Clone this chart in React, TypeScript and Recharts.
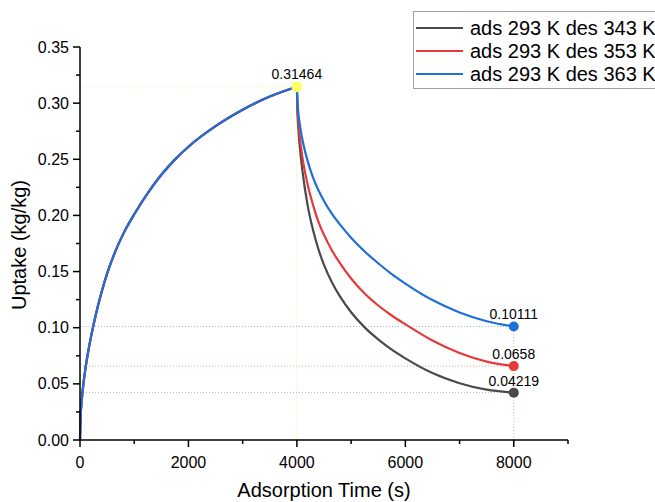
import { LineChart, Line, XAxis, YAxis, ReferenceLine, ReferenceDot } from "recharts";

// adsorption branch (shared by all three runs, 293 K)
const adsTime = [0, 10, 25, 50, 100, 150, 200, 300, 400, 500, 650, 800, 1000, 1250, 1500, 1750, 2000, 2500, 3000, 3500, 4000];
const adsUptake = [0, 0.0196, 0.031, 0.0445, 0.0635, 0.0784, 0.0912, 0.1134, 0.132, 0.1482, 0.1678, 0.1838, 0.2011, 0.2199, 0.2362, 0.2497, 0.2612, 0.2795, 0.2941, 0.3059, 0.31464];

// desorption branch
const desTime = [4000, 4010, 4025, 4050, 4100, 4200, 4300, 4400, 4500, 4650, 4800, 5000, 5250, 5500, 5750, 6000, 6500, 7000, 7500, 8000];
const des343 = [0.31464, 0.2928, 0.2791, 0.263, 0.2406, 0.2085, 0.1865, 0.1696, 0.1559, 0.14, 0.1274, 0.1138, 0.1003, 0.0896, 0.0804, 0.0727, 0.0596, 0.0506, 0.0448, 0.04219];
const des353 = [0.31464, 0.2963, 0.2846, 0.2715, 0.2526, 0.227, 0.209, 0.194, 0.1827, 0.1685, 0.1571, 0.1438, 0.1304, 0.1198, 0.1109, 0.1031, 0.0886, 0.0774, 0.0698, 0.0658];
const des363 = [0.31464, 0.3007, 0.2921, 0.2821, 0.2681, 0.2481, 0.2335, 0.2222, 0.2129, 0.2011, 0.1916, 0.1802, 0.1679, 0.1574, 0.1477, 0.1393, 0.1246, 0.1136, 0.1058, 0.10111];

const seriesNames = ["ads 293 K des 343 K", "ads 293 K des 353 K", "ads 293 K des 363 K"];
const seriesColors = ["#4a4a4a", "#e8383b", "#1f6fd8"];
const guideColors = ["#c4a8b8", "#eea4aa", "#a4c4d4"];

const peakTime = 4000;
const peakUptake = 0.31464;
const endTime = 8000;
const endUptake = [0.04219, 0.0658, 0.10111];
const endLabels = ["0.04219", "0.0658", "0.10111"];

const xTicks = [0, 1000, 2000, 3000, 4000, 5000, 6000, 7000, 8000, 9000];
const yTicks = [0, 0.025, 0.05, 0.075, 0.1, 0.125, 0.15, 0.175, 0.2, 0.225, 0.25, 0.275, 0.3, 0.325, 0.35];

const FONT = "'Liberation Sans', Arial, sans-serif";

const toPoints = (xs: number[], ys: number[]) => xs.map((x, i) => ({ x, y: ys[i] }));
const adsData = toPoints(adsTime, adsUptake);
const desData = [des343, des353, des363].map((d) => toPoints(desTime, d));

function XTick({ x, y, payload }: any) {
  const major = payload.value % 2000 === 0;
  return (
    <g>
      <line x1={x} x2={x} y1={y} y2={y + (major ? 7 : 4)} stroke="#000" strokeWidth={1.5} />
      {major && (
        <text x={x} y={y + 28} textAnchor="middle" fontSize={16} fill="#000">
          {payload.value}
        </text>
      )}
    </g>
  );
}

function YTick({ x, y, payload }: any) {
  const v = payload.value;
  const major = Math.abs(Math.round(v / 0.05) * 0.05 - v) < 1e-6;
  return (
    <g>
      <line x1={x} x2={x - (major ? 7 : 4)} y1={y} y2={y} stroke="#000" strokeWidth={1.5} />
      {major && (
        <text x={x - 11} y={y} dy="0.35em" textAnchor="end" fontSize={16} fill="#000">
          {v.toFixed(2)}
        </text>
      )}
    </g>
  );
}

function Legend() {
  return (
    <div
      style={{
        position: "absolute",
        left: 413,
        top: 11,
        width: 280,
        height: 78,
        border: "1px solid #a0a0a0",
        background: "#fff",
        fontFamily: FONT,
        fontSize: 20,
        boxSizing: "border-box",
      }}
    >
      {seriesNames.map((name, i) => (
        <div key={name} style={{ position: "absolute", left: 2, top: 5 + i * 23, height: 22, display: "flex", alignItems: "center", whiteSpace: "nowrap" }}>
          <svg width={47} height={4} style={{ marginRight: 7 }}>
            <line x1={0} x2={47} y1={2} y2={2} stroke={seriesColors[i]} strokeWidth={2} />
          </svg>
          <span>{name}</span>
        </div>
      ))}
    </div>
  );
}

export default function App() {
  return (
    <div style={{ position: "absolute", left: 0, top: 0, width: 655, height: 502, overflow: "hidden", background: "#fff", fontFamily: FONT }}>
      <LineChart width={655} height={502} margin={{ top: 47, right: 87, left: 20, bottom: 22 }} style={{ fontFamily: FONT }}>
        <XAxis
          type="number"
          dataKey="x"
          domain={[0, 9000]}
          ticks={xTicks}
          interval={0}
          tickSize={0}
          tickMargin={0}
          tickLine={false}
          tick={<XTick />}
          height={40}
          axisLine={{ stroke: "#000", strokeWidth: 1.5 }}
          label={{
            content: () => (
              <text x={324} y={497} textAnchor="middle" fontSize={20} fill="#000">
                Adsorption Time (s)
              </text>
            ),
          }}
        />
        <YAxis
          type="number"
          dataKey="y"
          domain={[0, 0.35]}
          ticks={yTicks}
          interval={0}
          tickSize={0}
          tickMargin={0}
          tickLine={false}
          tick={<YTick />}
          width={60}
          axisLine={{ stroke: "#000", strokeWidth: 1.5 }}
          label={{
            content: () => (
              <text x={26} y={245} transform="rotate(-90 26 245)" textAnchor="middle" fontSize={20} fill="#000">
                Uptake (kg/kg)
              </text>
            ),
          }}
        />

        <ReferenceLine segment={[{ x: 0, y: peakUptake }, { x: peakTime, y: peakUptake }]} stroke="#f2f28a" strokeDasharray="1 2" />
        <ReferenceLine segment={[{ x: peakTime, y: 0 }, { x: peakTime, y: peakUptake }]} stroke="#f2f28a" strokeDasharray="1 2" />
        {endUptake.map((v, i) => (
          <ReferenceLine key={"h" + i} segment={[{ x: 0, y: v }, { x: endTime, y: v }]} stroke={guideColors[i]} strokeDasharray="1 2" />
        ))}
        <ReferenceLine segment={[{ x: endTime, y: 0 }, { x: endTime, y: endUptake[2] }]} stroke="#d4b0c0" strokeDasharray="1 2" />

        {seriesColors.map((c, i) => (
          <Line key={"ads" + i} data={adsData} dataKey="y" type="monotone" stroke={c} strokeWidth={2.2} dot={false} isAnimationActive={false} />
        ))}
        {seriesColors.map((c, i) => (
          <Line key={"des" + i} data={desData[i]} dataKey="y" type="monotone" stroke={c} strokeWidth={2.2} dot={false} isAnimationActive={false} />
        ))}

        <ReferenceDot
          x={peakTime}
          y={peakUptake}
          r={5.5}
          fill="#ffff66"
          stroke="none"
          label={{ value: "0.31464", position: "top", offset: 2, fontSize: 14, fill: "#000" }}
        />
        {endUptake.map((v, i) => (
          <ReferenceDot
            key={"d" + i}
            x={endTime}
            y={v}
            r={5}
            fill={seriesColors[i]}
            stroke="none"
            label={{ value: endLabels[i], position: "top", offset: 2, fontSize: 14, fill: "#000" }}
          />
        ))}
      </LineChart>
      <Legend />
    </div>
  );
}
